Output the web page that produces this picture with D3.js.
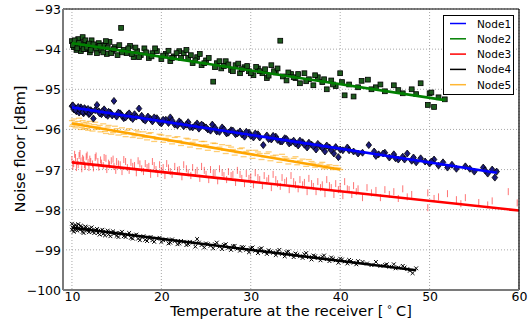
<!DOCTYPE html>
<html><head><meta charset="utf-8">
<script src="https://cdn.jsdelivr.net/npm/d3@7"></script>
<style>body{margin:0;background:#fff}svg{display:block}text{font-family:"DejaVu Sans",sans-serif}</style>
</head><body>
<svg id="c" width="532" height="320"></svg>
<script>
const nodeNames = ["Node1","Node2","Node3","Node4","Node5"];
const xTicks = [10,20,30,40,50,60];
const yTicks = [-100,-99,-98,-97,-96,-95,-94,-93];

const node1Temp = [10.0,10.2,10.3,10.5,10.6,10.8,11.0,11.1,11.3,11.5,11.7,11.9,12.1,12.4,12.8,13.0,13.3,13.6,14.0,14.3,14.7,15.0,15.4,15.8,16.2,16.6,17.0,17.5,18.0,18.5,19.0,19.5,20.0,20.5,21.0,21.5,22.0,22.5,23.0,23.5,24.0,24.7,25.2,25.7,26.2,26.8,27.3,27.8,28.3,28.8,29.3,29.8,30.3,30.8,31.4,31.8,32.3,32.8,33.3,33.8,34.3,34.8,35.3,35.8,36.3,36.8,37.3,37.8,38.3,38.8,39.3,39.8,40.3,40.8,41.5,42.0,43.2,43.8,44.3,45.0,45.5,46.0,46.5,47.0,47.5,48.0,48.5,49.0,49.5,50.0,50.5,51.0,51.5,52.0,53.0,54.0,55.0,56.0,56.5,57.0,57.3,57.5,
  10.1,10.4,10.7,10.9,11.2,11.4,11.6,11.8,12.0,12.2,12.6,13.1,13.4,13.8,14.1,14.5,15.2,15.6,16.0,16.4,16.8,17.2,17.8,18.2,18.8,19.2,19.8,20.2,20.8,21.2,21.8,22.2,22.8,23.2,23.8,24.2,24.5,25.0,25.5,26.0,26.5,27.0,27.5,28.0,28.5,29.0,29.5,30.0,30.5,31.0,32.0,32.5,33.0,33.5,34.0,34.5,35.0,35.5,36.0,36.5,37.0,37.5,38.0,38.5,39.0,39.5,40.0,41.0,42.5,44.0,44.8,46.2,47.2,48.2,50.2,52.5,54.5,56.2];
const node1Noise = [-95.42,-95.50,-95.46,-95.55,-95.48,-95.58,-95.45,-95.53,-95.60,-95.50,-95.56,-95.62,-95.52,-95.73,-95.39,-95.55,-95.62,-95.50,-95.66,-95.58,-95.29,-95.68,-95.60,-95.72,-95.64,-95.70,-95.62,-95.48,-95.75,-95.68,-95.80,-95.72,-95.85,-95.76,-95.70,-95.88,-95.80,-95.92,-95.82,-95.95,-95.85,-95.91,-96.00,-95.88,-96.05,-95.95,-96.10,-96.02,-96.12,-96.05,-96.18,-96.08,-96.20,-96.12,-96.39,-96.15,-96.25,-96.18,-96.30,-96.22,-96.35,-96.28,-96.40,-96.32,-96.45,-96.38,-96.50,-96.42,-96.55,-96.45,-96.60,-96.69,-96.52,-96.45,-96.55,-96.60,-96.39,-96.55,-96.62,-96.58,-96.70,-96.62,-96.75,-96.68,-96.60,-96.78,-96.82,-96.72,-96.80,-96.85,-96.75,-96.90,-96.82,-96.95,-96.98,-96.92,-97.05,-96.95,-97.10,-97.00,-97.20,-97.05,
  -95.40,-95.52,-95.44,-95.51,-95.57,-95.47,-95.54,-95.49,-95.60,-95.55,-95.52,-95.60,-95.55,-95.63,-95.56,-95.65,-95.58,-95.66,-95.70,-95.60,-95.74,-95.68,-95.66,-95.78,-95.74,-95.70,-95.82,-95.76,-95.84,-95.78,-95.90,-95.84,-95.88,-95.94,-95.90,-95.98,-95.88,-95.95,-96.03,-95.96,-96.06,-96.00,-96.08,-96.03,-96.10,-96.12,-96.06,-96.16,-96.10,-96.20,-96.24,-96.16,-96.26,-96.30,-96.24,-96.32,-96.35,-96.28,-96.38,-96.33,-96.42,-96.36,-96.46,-96.40,-96.52,-96.44,-96.50,-96.52,-96.58,-96.66,-96.60,-96.72,-96.75,-96.70,-96.80,-96.88,-96.98,-97.02];

const node2Temp = [10.0,10.2,10.4,10.5,10.7,10.9,11.0,11.2,11.4,11.6,11.8,12.0,12.2,12.5,12.8,13.0,13.3,13.6,13.9,14.2,14.5,14.8,15.1,15.5,15.8,16.1,16.5,16.9,17.3,17.7,18.1,18.6,19.0,19.5,20.0,20.5,21.0,21.4,22.0,22.5,23.0,23.5,24.0,24.5,25.0,25.8,26.2,26.7,27.2,27.8,28.3,28.8,29.3,29.8,30.3,30.8,31.3,31.8,32.3,32.8,33.3,33.6,34.0,34.5,35.0,35.5,36.0,36.5,37.0,37.5,38.0,38.5,39.0,39.5,40.0,40.5,41.0,41.5,42.4,43.1,44.0,45.0,46.0,47.0,48.0,49.0,49.8,50.0,50.5,51.0,51.7,
  10.1,10.3,10.6,10.8,11.1,11.3,11.5,11.7,11.9,12.1,12.4,12.7,13.1,13.5,13.8,14.0,14.4,14.7,15.3,15.6,16.3,16.7,17.1,17.5,18.3,18.9,19.3,20.2,20.8,21.2,21.7,22.2,22.8,23.3,23.8,24.3,24.8,25.3,26.0,26.5,27.0,27.5,28.0,28.6,29.0,29.6,30.0,30.6,31.0,31.6,32.0,32.6,33.0,34.2,34.8,35.3,36.2,37.2,38.2,39.2,40.2,42.0,43.5,44.5,46.5,48.5,50.2];
const node2Noise = [-93.80,-93.95,-93.88,-94.02,-93.75,-93.92,-94.05,-93.70,-93.85,-94.00,-93.90,-94.08,-93.78,-93.95,-94.10,-93.85,-94.02,-93.90,-94.12,-93.82,-94.05,-93.95,-94.15,-93.47,-94.02,-94.10,-93.92,-94.20,-94.05,-94.15,-93.98,-94.22,-94.10,-94.05,-94.25,-94.12,-94.30,-94.18,-94.05,-94.10,-94.22,-94.35,-94.20,-94.40,-94.28,-94.81,-94.35,-94.48,-94.30,-94.52,-94.40,-94.60,-94.45,-94.55,-94.65,-94.48,-94.60,-94.72,-94.40,-94.58,-93.79,-94.68,-94.78,-94.62,-94.72,-94.85,-94.60,-94.75,-94.90,-94.70,-94.82,-95.00,-94.78,-94.92,-94.60,-95.15,-94.88,-95.18,-94.79,-94.76,-94.95,-95.05,-94.90,-95.10,-95.00,-94.85,-95.39,-95.10,-95.44,-95.20,-95.25,
  -93.90,-93.78,-93.98,-93.84,-93.93,-94.00,-93.78,-93.96,-93.86,-94.02,-93.88,-93.98,-93.92,-94.08,-93.80,-93.96,-94.10,-94.00,-93.90,-94.08,-93.98,-94.12,-93.96,-94.20,-94.08,-94.18,-93.98,-94.16,-94.04,-94.22,-94.10,-94.22,-94.02,-94.15,-94.28,-94.12,-94.35,-94.22,-94.45,-94.30,-94.42,-94.38,-94.55,-94.36,-94.50,-94.42,-94.60,-94.44,-94.55,-94.50,-94.66,-94.55,-94.48,-94.58,-94.70,-94.62,-94.80,-94.65,-94.75,-94.88,-94.82,-94.95,-95.00,-94.88,-95.02,-95.12,-95.08];

const node3Temp = [10.0,10.2,10.4,10.6,10.8,11.0,11.2,11.4,11.6,11.8,12.0,12.3,12.6,12.9,13.2,13.5,13.8,14.1,14.4,14.7,15.0,15.4,15.8,16.2,16.6,17.0,17.4,17.8,18.2,18.6,19.0,19.4,19.8,20.2,20.6,21.0,21.5,22.0,22.5,23.0,23.5,24.0,24.5,25.0,25.5,26.0,26.5,27.0,27.5,28.0,28.5,29.0,29.5,30.0,30.5,31.0,31.5,32.0,32.5,33.0,33.5,34.0,34.5,35.0,35.5,36.0,36.5,37.0,37.5,38.0,38.5,39.0,39.5,40.0,40.5,41.0,41.5,42.0,43.0,44.0,45.0,46.0,47.0,48.0,49.8,49.8,51.0,52.0,53.0,54.0,55.5,57.0,58.8,59.8,
  10.1,10.3,10.5,10.7,10.9,11.1,11.3,11.5,11.7,11.9,12.1,12.4,12.7,13.0,13.3,13.6,13.9,14.2,14.6,14.9,15.2,15.6,16.0,16.4,16.8,17.2,17.6,18.0,18.4,18.8,19.2,19.6,20.0,20.4,20.8,21.2,21.8,22.3,22.8,23.3,23.8,24.3,24.8,25.3,25.8,26.3,26.8,27.3,27.8,28.3,28.8,29.3,29.8,30.3,30.8,31.3,31.8,32.3,32.8,33.3,33.8,34.3,34.8,35.3,35.8,36.3,36.8,37.3,37.8,38.3,38.8,39.3,39.8,40.3,40.8,41.3,41.8,42.5,43.5,44.5,45.5,46.5,47.5,50.5,53.5,56.5];
const node3Noise = [-96.75,-96.85,-96.70,-96.80,-96.65,-96.78,-96.72,-96.88,-96.68,-96.82,-96.74,-96.86,-96.70,-96.80,-96.76,-96.90,-96.72,-96.84,-96.78,-96.92,-96.80,-96.88,-96.75,-96.95,-96.82,-96.90,-96.78,-96.98,-96.85,-96.92,-96.80,-97.00,-96.88,-96.95,-96.85,-97.05,-96.92,-97.00,-96.88,-97.08,-96.95,-97.02,-96.92,-97.12,-97.00,-97.08,-96.98,-97.15,-97.05,-97.12,-97.02,-97.22,-97.10,-97.18,-97.08,-97.25,-97.15,-97.22,-97.12,-97.35,-97.20,-97.28,-97.15,-97.38,-97.25,-97.32,-97.22,-97.42,-97.30,-97.38,-97.25,-97.45,-97.35,-97.42,-97.30,-97.50,-97.40,-97.48,-97.45,-97.52,-97.50,-97.55,-97.48,-97.62,-97.58,-97.95,-97.68,-97.60,-97.75,-97.70,-97.82,-97.78,-97.55,-97.83,
  -96.92,-96.62,-96.95,-96.88,-96.60,-96.98,-96.76,-96.92,-96.64,-96.95,-96.80,-96.96,-96.66,-96.94,-96.84,-96.70,-97.00,-96.88,-96.74,-97.02,-96.86,-97.05,-96.80,-97.02,-96.92,-97.08,-96.86,-97.05,-96.95,-97.12,-96.90,-97.10,-97.02,-97.15,-96.96,-97.12,-97.02,-97.18,-96.98,-97.15,-97.08,-97.22,-97.02,-97.25,-97.10,-97.28,-97.08,-97.25,-97.15,-97.32,-97.12,-97.35,-97.22,-97.38,-97.20,-97.40,-97.28,-97.45,-97.25,-97.42,-97.32,-97.50,-97.30,-97.48,-97.38,-97.55,-97.35,-97.55,-97.45,-97.60,-97.40,-97.62,-97.50,-97.65,-97.48,-97.62,-97.55,-97.70,-97.58,-97.70,-97.62,-97.72,-97.68,-97.72,-97.85,-97.88];

const node4Temp = [10.0,10.1,10.2,10.3,10.5,10.6,10.8,11.0,11.2,11.4,11.6,11.8,12.0,12.3,12.6,12.9,13.2,13.5,13.8,14.1,14.4,14.7,15.0,15.4,15.8,16.2,16.6,17.0,17.4,17.8,18.2,18.6,19.0,19.5,20.0,20.5,21.0,21.5,22.0,22.5,23.0,23.5,24.0,24.5,25.0,25.5,26.0,26.5,27.0,27.5,28.0,28.5,29.0,29.5,30.0,30.5,31.0,31.5,32.0,32.5,33.0,33.5,34.0,34.5,35.0,35.5,36.0,36.5,37.0,37.5,38.0,38.5,39.0,39.5,40.0,40.5,41.0,41.5,42.0,43.0,44.0,45.0,45.5,46.0,46.5,47.0,47.5,48.1,48.5,
  10.0,10.2,10.4,10.4,10.7,10.9,11.1,11.3,11.5,11.7,11.9,12.2,12.5,12.8,13.1,13.4,13.7,14.0,14.3,14.6,14.9,15.2,15.6,16.0,16.4,16.8,17.2,17.6,18.0,18.4,18.8,19.2,19.8,20.2,20.8,21.2,21.8,22.2,22.8,23.2,23.8,24.2,24.8,25.2,25.8,26.2,26.8,27.2,27.8,28.2,28.8,29.2,29.8,30.2,30.8,31.2,31.8,32.2,32.8,33.2,33.8,34.2,34.8,35.2,35.8,36.2,36.8,37.2,37.8,38.2,38.8,39.2,39.8,40.2,40.8,41.2,41.8,42.5,43.5,44.5,45.2,46.2,47.2,47.8];
const node4Noise = [-98.35,-98.45,-98.40,-98.50,-98.42,-98.52,-98.45,-98.40,-98.55,-98.48,-98.44,-98.52,-98.47,-98.55,-98.50,-98.58,-98.52,-98.60,-98.55,-98.62,-98.56,-98.60,-98.65,-98.58,-98.66,-98.62,-98.70,-98.64,-98.72,-98.68,-98.75,-98.70,-98.76,-98.72,-98.80,-98.74,-98.82,-98.78,-98.84,-98.80,-98.86,-98.82,-98.73,-98.88,-98.84,-98.90,-98.86,-98.92,-98.88,-98.95,-98.91,-98.97,-98.93,-99.00,-98.96,-99.02,-98.98,-99.05,-99.01,-99.07,-99.03,-99.10,-99.06,-99.12,-99.09,-99.16,-99.11,-99.18,-99.14,-99.20,-99.17,-99.23,-99.19,-99.26,-99.22,-99.29,-99.25,-99.32,-99.28,-99.34,-99.30,-99.38,-99.42,-99.36,-99.44,-99.40,-99.48,-99.58,-99.46,
  -98.50,-98.55,-98.38,-98.47,-98.36,-98.50,-98.44,-98.58,-98.42,-98.50,-98.56,-98.44,-98.58,-98.48,-98.62,-98.50,-98.64,-98.52,-98.66,-98.54,-98.58,-98.68,-98.55,-98.68,-98.58,-98.72,-98.62,-98.76,-98.66,-98.78,-98.68,-98.80,-98.70,-98.76,-98.84,-98.74,-98.86,-98.78,-98.88,-98.80,-98.92,-98.82,-98.94,-98.86,-98.96,-98.82,-98.98,-98.86,-99.00,-98.90,-99.02,-98.94,-99.06,-98.94,-99.08,-98.96,-99.10,-99.04,-99.13,-99.00,-99.16,-99.04,-99.18,-99.12,-99.20,-99.08,-99.24,-99.16,-99.26,-99.14,-99.28,-99.22,-99.32,-99.24,-99.34,-99.28,-99.36,-99.30,-99.38,-99.40,-99.36,-99.46,-99.44,-99.52];

const node5Temp = [10.0,10.1,10.3,10.5,10.7,10.9,11.1,11.3,11.5,11.7,11.9,12.2,12.5,12.8,13.1,13.4,13.7,14.0,14.3,14.6,15.0,15.4,15.8,16.2,16.6,17.0,17.4,17.8,18.2,18.6,19.0,19.5,20.0,20.5,21.0,21.5,22.0,22.5,23.0,23.5,24.0,24.5,25.0,25.5,26.0,26.5,27.0,27.5,28.0,28.5,29.0,29.5,30.0,30.5,31.0,31.5,32.0,32.5,33.0,33.5,34.0,34.5,35.0,35.5,36.0,36.5,37.0,37.5,38.0,38.5,39.0,39.5,40.0,
  10.0,10.2,10.4,10.6,10.8,11.0,11.2,11.4,11.6,11.8,12.0,12.3,12.6,12.9,13.2,13.5,13.8,14.1,14.4,14.8,15.2,15.6,16.0,16.4,16.8,17.2,17.6,18.0,18.4,18.8,19.2,19.8,20.2,20.8,21.2,21.8,22.2,22.8,23.2,23.8,24.2,24.8,25.2,25.8,26.2,26.8,27.2,27.8,28.2,28.8,29.2,29.8,30.2,30.8,31.2,31.8,32.2,32.8,33.2,33.8,34.2,34.8,35.2,35.8,36.2,36.8,37.2,37.8,38.2,38.8,39.2,39.8];
const node5Noise = [-95.78,-95.88,-95.82,-95.92,-95.80,-95.86,-95.95,-95.84,-95.90,-95.98,-95.86,-95.94,-95.88,-96.00,-95.90,-95.98,-96.05,-95.94,-96.02,-96.08,-95.98,-96.06,-96.12,-96.02,-96.10,-96.16,-96.06,-96.14,-96.20,-96.10,-96.18,-96.25,-96.14,-96.22,-96.30,-96.20,-96.28,-96.35,-96.24,-96.32,-96.40,-96.30,-96.38,-96.45,-96.35,-96.44,-96.52,-96.40,-96.50,-96.58,-96.46,-96.55,-96.62,-96.52,-96.60,-96.68,-96.56,-96.66,-96.72,-96.62,-96.72,-96.78,-96.68,-96.78,-96.85,-96.75,-96.84,-96.90,-96.82,-96.90,-96.95,-96.90,-97.00,
  -95.92,-95.74,-95.96,-95.86,-95.72,-96.00,-95.78,-95.98,-95.82,-96.02,-95.80,-96.04,-95.82,-95.94,-96.06,-95.86,-96.10,-95.90,-96.12,-95.92,-96.14,-95.96,-96.18,-95.98,-96.20,-96.02,-96.22,-96.06,-96.26,-96.08,-96.30,-96.12,-96.32,-96.16,-96.36,-96.18,-96.40,-96.22,-96.44,-96.26,-96.48,-96.30,-96.52,-96.34,-96.55,-96.38,-96.60,-96.44,-96.64,-96.48,-96.68,-96.52,-96.72,-96.56,-96.75,-96.60,-96.78,-96.64,-96.82,-96.68,-96.86,-96.72,-96.88,-96.74,-96.92,-96.80,-96.94,-96.86,-96.98,-96.88,-97.00,-96.96];

// fitted lines: start and end per node
const fitTempStart = [10, 10, 10, 10, 10];
const fitNoiseStart = [-95.45, -93.85, -96.82, -98.45, -95.85];
const fitTempEnd = [57.5, 51.7, 60, 48.5, 40];
const fitNoiseEnd = [-97.08, -95.27, -98.02, -99.51, -97.00];

const lineColors = ["#0000ff", "#008000", "#ff0000", "#000000", "#ffa500"];

const W = 532, H = 320;
const m = {l: 63, r: 13, t: 9, b: 30};
const svg = d3.select("#c");
const x = d3.scaleLinear().domain([9, 60]).range([m.l, W - m.r]);
const y = d3.scaleLinear().domain([-100, -93]).range([H - m.b, m.t]);

// grid
const g = svg.append("g");
g.selectAll(".gx").data(xTicks).join("line")
  .attr("x1", d => x(d)).attr("x2", d => x(d)).attr("y1", m.t).attr("y2", H - m.b)
  .attr("stroke", "#a8a8a8").attr("stroke-dasharray", "1,2").attr("stroke-width", 1);
g.selectAll(".gy").data(yTicks).join("line")
  .attr("y1", d => y(d)).attr("y2", d => y(d)).attr("x1", m.l).attr("x2", W - m.r)
  .attr("stroke", "#a8a8a8").attr("stroke-dasharray", "1,2").attr("stroke-width", 1);

const pts = (tx, ny) => tx.map((t, i) => [t, ny[i]]);
svg.append("defs").append("clipPath").attr("id", "cp").append("rect")
  .attr("x", m.l).attr("y", m.t).attr("width", W - m.l - m.r).attr("height", H - m.t - m.b);
const plot = svg.append("g").attr("clip-path", "url(#cp)");

// Node3: red vertical ticks
plot.append("g").selectAll("line").data(pts(node3Temp, node3Noise)).join("line")
  .attr("x1", d => x(d[0])).attr("x2", d => x(d[0]))
  .attr("y1", d => y(d[1]) - 3.5).attr("y2", d => y(d[1]) + 3.5)
  .attr("stroke", "#ff0000").attr("stroke-opacity", 0.55).attr("stroke-width", 1);
// Node5: orange horizontal dashes
plot.append("g").selectAll("line").data(pts(node5Temp, node5Noise)).join("line")
  .attr("x1", d => x(d[0]) - 3).attr("x2", d => x(d[0]) + 3)
  .attr("y1", d => y(d[1])).attr("y2", d => y(d[1]))
  .attr("stroke", "#ffa500").attr("stroke-opacity", 0.55).attr("stroke-width", 1.3);
// Node4: black x
plot.append("g").selectAll("path").data(pts(node4Temp, node4Noise)).join("path")
  .attr("d", d => { const a = x(d[0]), b = y(d[1]), s = 1.9;
    return `M${a-s},${b-s}L${a+s},${b+s}M${a-s},${b+s}L${a+s},${b-s}`; })
  .attr("stroke", "#000").attr("stroke-width", 1);
// Node2: squares
plot.append("g").selectAll("rect").data(pts(node2Temp, node2Noise)).join("rect")
  .attr("x", d => x(d[0]) - 2.4).attr("y", d => y(d[1]) - 2.4)
  .attr("width", 4.8).attr("height", 4.8)
  .attr("fill", "#1d5a1d").attr("stroke", "#000").attr("stroke-width", 0.8);
// Node1: diamonds
plot.append("g").selectAll("path").data(pts(node1Temp, node1Noise)).join("path")
  .attr("d", d => { const a = x(d[0]), b = y(d[1]);
    return `M${a},${b-3.5}L${a+2.8},${b}L${a},${b+3.5}L${a-2.8},${b}Z`; })
  .attr("fill", "#1a1a7a").attr("stroke", "#000").attr("stroke-width", 0.8);

// fitted lines
const fits = nodeNames.map((n, i) => ({i, x0: fitTempStart[i], y0: fitNoiseStart[i], x1: fitTempEnd[i], y1: fitNoiseEnd[i]}));
plot.append("g").selectAll("line").data(fits).join("line")
  .attr("x1", d => x(d.x0)).attr("y1", d => y(d.y0))
  .attr("x2", d => x(d.x1)).attr("y2", d => y(d.y1))
  .attr("stroke", d => lineColors[d.i]).attr("stroke-width", 2.6);

// spines
svg.append("line").attr("x1", m.l).attr("x2", W - m.r).attr("y1", m.t).attr("y2", m.t).attr("stroke", "#000").attr("stroke-width", 1.2);
svg.append("line").attr("x1", W - m.r).attr("x2", W - m.r).attr("y1", m.t).attr("y2", H - m.b).attr("stroke", "#000").attr("stroke-width", 1.2);
svg.append("line").attr("x1", m.l).attr("x2", m.l).attr("y1", m.t).attr("y2", H - m.b).attr("stroke", "#7a7a7a").attr("stroke-width", 2);
svg.append("line").attr("x1", m.l).attr("x2", W - m.r).attr("y1", H - m.b).attr("y2", H - m.b).attr("stroke", "#7a7a7a").attr("stroke-width", 2);

// axes tick labels via d3 axes
const fmt = d => d < 0 ? "\u2212" + Math.abs(d) : String(d);
const ax = svg.append("g").attr("transform", `translate(0,${H - m.b})`)
  .call(d3.axisBottom(x).tickValues(xTicks).tickFormat(fmt).tickSize(0).tickPadding(2));
const ay = svg.append("g").attr("transform", `translate(${m.l},0)`)
  .call(d3.axisLeft(y).tickValues(yTicks).tickFormat(fmt).tickSize(0).tickPadding(2));
[ax, ay].forEach(a => { a.select(".domain").remove();
  a.selectAll("text").attr("font-family", "DejaVu Sans").attr("font-size", 12.5).attr("fill", "#000"); });
ay.selectAll("text").attr("dy", "0.36em");

// axis titles
svg.append("text").attr("transform", "translate(25,149) rotate(-90)").attr("text-anchor", "middle")
  .attr("font-size", 14.5).text("Noise floor [dBm]");
const xt = svg.append("text").attr("x", 291).attr("y", 315.5).attr("text-anchor", "middle").attr("font-size", 14.5);
xt.append("tspan").text("Temperature at the receiver [");
xt.append("tspan").attr("dy", -6).attr("font-size", 10).text("\u00a0\u2218\u00a0");
xt.append("tspan").attr("dy", 6).text("C]");

// legend
const lg = svg.append("g");
lg.append("rect").attr("x", 443.5).attr("y", 15.5).attr("width", 70).attr("height", 79)
  .attr("fill", "#fff").attr("stroke", "#000").attr("stroke-width", 1);
const items = lg.selectAll("g.it").data(nodeNames).join("g").attr("transform", (d, i) => `translate(0,${23.5 + i * 15.3})`);
items.append("line").attr("x1", 450).attr("x2", 466).attr("y1", 0).attr("y2", 0)
  .attr("stroke", (d, i) => lineColors[i]).attr("stroke-width", 1.5).attr("stroke-opacity", (d,i)=> i===4?0.8:1);
items.append("text").attr("x", 477).attr("y", 4).attr("font-size", 10.5).text(d => d);
</script>
</body></html>
